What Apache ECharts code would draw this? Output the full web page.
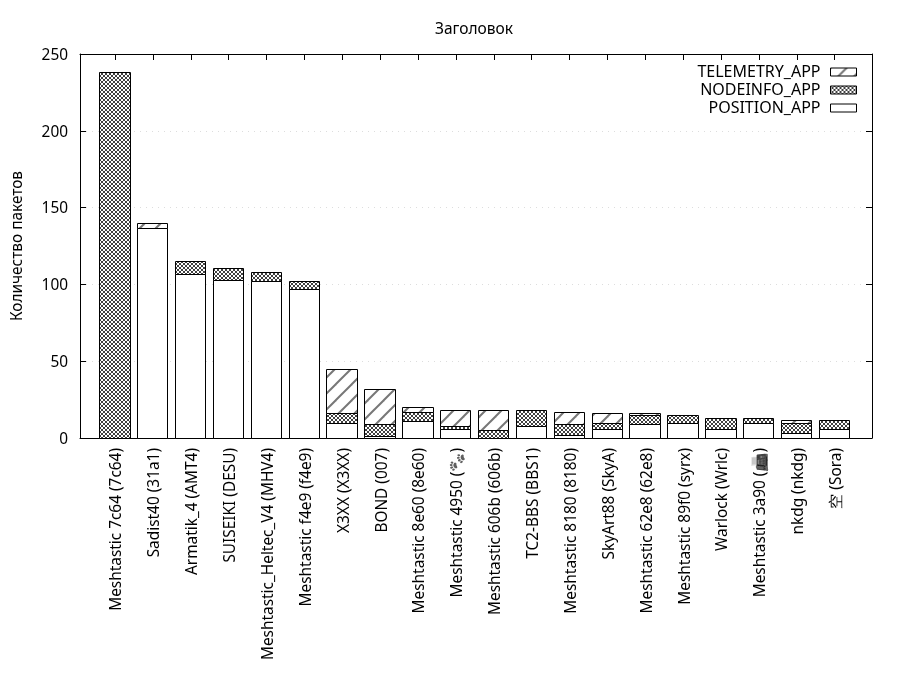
<!DOCTYPE html>
<html>
<head>
<meta charset="utf-8">
<script src="https://cdn.jsdelivr.net/npm/echarts@6/dist/echarts.min.js"></script>
<style>
    html, body { margin: 0; padding: 0; background: #fff; }
    #chart { width: 900px; height: 700px; }
    /* the reference has monochrome emoji glyphs */
    #chart canvas { filter: grayscale(1); }
</style>
</head>
<body>
<div id="chart"></div>
<script>
    const categories = [
        'Meshtastic 7c64 (7c64)', 'Sadist40 (31a1)', 'Armatik_4 (AMT4)', 'SUISEIKI (DESU)',
        'Meshtastic_Heltec_V4 (MHV4)', 'Meshtastic f4e9 (f4e9)', 'X3XX (X3XX)', 'BOND (007)',
        'Meshtastic 8e60 (8e60)', 'Meshtastic 4950 (🐾)', 'Meshtastic 606b (606b)', 'TC2-BBS (BBS1)',
        'Meshtastic 8180 (8180)', 'SkyArt88 (SkyA)', 'Meshtastic 62e8 (62e8)', 'Meshtastic 89f0 (syrx)',
        'Warlock (Wrlc)', 'Meshtastic 3a90 (📠)', 'nkdg (nkdg)', '空 (Sora)'
    ];
    const positionApp  = [0, 137, 107, 103, 102, 97, 10, 1, 11, 6, 0, 8, 2, 6, 9, 10, 6, 10, 3, 6];
    const nodeinfoApp  = [238, 0, 8, 8, 6, 5, 6, 8, 6, 2, 5, 10, 7, 4, 6, 5, 7, 3, 7, 6];
    const telemetryApp = [0, 3, 0, 0, 0, 0, 29, 23, 3, 10, 13, 0, 8, 6, 1, 0, 0, 0, 2, 0];

    const FONT = '"Noto Sans", sans-serif';

    // gnuplot style fill patterns
    function crossPattern() {
        const c = document.createElement('canvas');
        c.width = 4; c.height = 4;
        const g = c.getContext('2d');
        g.fillStyle = '#fff';
        g.fillRect(0, 0, 4, 4);
        g.strokeStyle = '#000';
        g.lineWidth = 0.75;
        [0, 4, 8].forEach(function (k) {
            g.beginPath(); g.moveTo(k + 1, -1); g.lineTo(k - 5, 5); g.stroke();
            g.beginPath(); g.moveTo(k - 5, -1); g.lineTo(k + 1, 5); g.stroke();
        });
        return { image: c, repeat: 'repeat' };
    }
    function hatchPattern() {
        const s = 16;
        const c = document.createElement('canvas');
        c.width = s; c.height = s;
        const g = c.getContext('2d');
        g.fillStyle = '#fff';
        g.fillRect(0, 0, s, s);
        g.strokeStyle = '#777';
        g.lineWidth = 2;
        [[-s, s, s, -s], [0, s, s, 0], [0, 2 * s, 2 * s, 0]].forEach(function (l) {
            g.beginPath();
            g.moveTo(l[0], l[1]);
            g.lineTo(l[2], l[3]);
            g.stroke();
        });
        return { image: c, repeat: 'repeat' };
    }

    // stack by hand and snap the edges to pixels, plain bars blur their 1px borders here
    function barSeries(name, values, below, fill) {
        const data = [];
        values.forEach(function (v, i) {
            const base = below.reduce(function (sum, arr) { return sum + arr[i]; }, 0);
            if (v > 0) data.push([i, base, base + v]);
        });
        return {
            name: name,
            type: 'custom',
            silent: true,
            encode: { x: 0, y: [1, 2] },
            itemStyle: { color: fill, borderColor: '#000', borderWidth: 1 },
            data: data,
            renderItem: function (params, api) {
                const bottom = api.coord([api.value(0), api.value(1)]);
                const top = api.coord([api.value(0), api.value(2)]);
                const x0 = Math.floor(bottom[0] - 15.4) + 0.5;
                const x1 = Math.floor(bottom[0] + 15) + 0.5;
                const y0 = Math.round(top[1]) + 0.5;
                const y1 = Math.round(bottom[1]) + 0.5;
                return {
                    type: 'rect',
                    shape: { x: x0, y: y0, width: x1 - x0, height: y1 - y0 },
                    style: { fill: fill, stroke: '#000', lineWidth: 1 }
                };
            }
        };
    }

    const tickIdx = categories.map(function (c, i) { return i; });
    const chart = echarts.init(document.getElementById('chart'), null, { renderer: 'canvas' });
    chart.setOption({
        animation: false,
        backgroundColor: '#fff',
        textStyle: { fontFamily: FONT },
        title: {
            text: 'Заголовок',
            left: 469,
            top: 17,
            textAlign: 'center',
            textStyle: { fontFamily: FONT, fontSize: 15.5, fontWeight: 'normal', color: '#000' }
        },
        legend: {
            right: 38,
            top: 59,
            orient: 'vertical',
            align: 'right',
            icon: 'rect',
            itemWidth: 26,
            itemHeight: 8,
            itemGap: 2,
            itemStyle: { borderColor: '#000', borderWidth: 1 },
            textStyle: { fontFamily: FONT, fontSize: 16, lineHeight: 14, color: '#000', padding: [0, 5, 0, 0] },
            data: ['TELEMETRY_APP', 'NODEINFO_APP', 'POSITION_APP'],
            selectedMode: false
        },
        grid: { left: 80, right: 28, top: 54, bottom: 262 },
        xAxis: [
            {
                type: 'value',
                min: -0.925,
                max: 19.985,
                splitLine: { show: false },
                axisLine: { onZero: false, lineStyle: { color: '#000' } },
                axisTick: { inside: true, length: 6, customValues: tickIdx, lineStyle: { color: '#000' } },
                axisLabel: {
                    customValues: tickIdx,
                    rotate: 90,
                    margin: 10,
                    color: '#000',
                    formatter: function (v) { return '{a|' + categories[v] + '}'; },
                    rich: { a: { fontFamily: FONT, fontSize: 15.4, color: '#000', padding: [4, 0, 0, 0] } }
                }
            },
            {
                type: 'value',
                position: 'top',
                min: -0.925,
                max: 19.985,
                splitLine: { show: false },
                axisLine: { onZero: false, lineStyle: { color: '#000' } },
                axisTick: { inside: true, length: 6, customValues: tickIdx, lineStyle: { color: '#000' } },
                axisLabel: { show: false }
            }
        ],
        yAxis: [
            {
                type: 'value',
                min: 0,
                max: 250,
                interval: 50,
                name: 'Количество пакетов',
                nameLocation: 'middle',
                nameGap: 55,
                nameTextStyle: { fontFamily: FONT, fontSize: 15.4, color: '#000' },
                axisLine: { show: true, onZero: false, lineStyle: { color: '#000' } },
                axisTick: { inside: true, length: 6, lineStyle: { color: '#000' } },
                axisLabel: {
                    margin: 12,
                    color: '#000',
                    formatter: function (v) { return '{a|' + v + '}'; },
                    rich: { a: { fontFamily: FONT, fontSize: 15.4, color: '#000', padding: [3, 0, 0, 0] } }
                },
                splitLine: { show: true, lineStyle: { color: '#ddd', type: [1, 5] } }
            },
            {
                type: 'value',
                position: 'right',
                min: 0,
                max: 250,
                interval: 50,
                axisLine: { show: true, onZero: false, lineStyle: { color: '#000' } },
                axisTick: { inside: true, length: 6, lineStyle: { color: '#000' } },
                axisLabel: { show: false },
                splitLine: { show: false }
            }
        ],
        series: [
            barSeries('POSITION_APP', positionApp, [], '#fff'),
            barSeries('NODEINFO_APP', nodeinfoApp, [positionApp], crossPattern()),
            barSeries('TELEMETRY_APP', telemetryApp, [positionApp, nodeinfoApp], hatchPattern())
        ]
    });
</script>
</body>
</html>
